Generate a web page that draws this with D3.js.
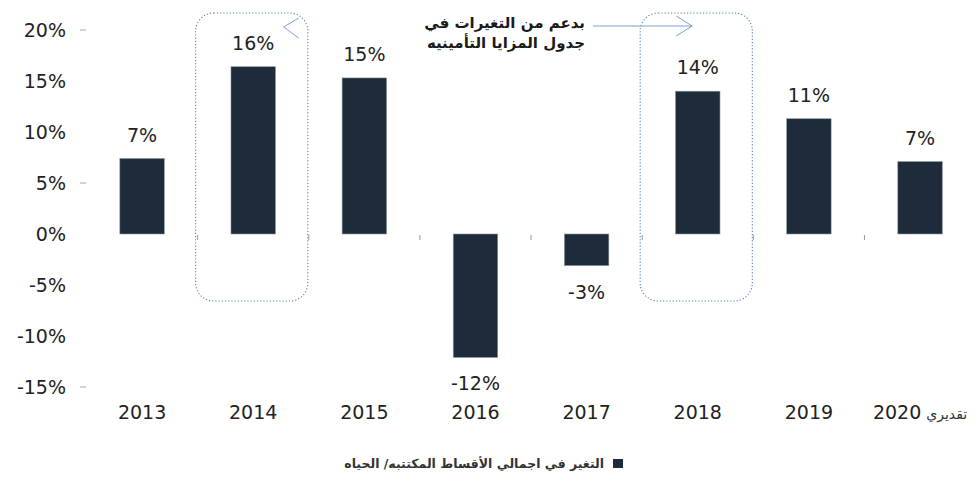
<!DOCTYPE html>
<html>
<head>
<meta charset="utf-8">
<script src="https://cdn.jsdelivr.net/npm/d3@7"></script>
<style>
  html, body { margin: 0; padding: 0; background: #fff; }
  svg { display: block; font-family: "DejaVu Sans", sans-serif; }
</style>
</head>
<body>
<div id="chart"></div>
<script>
// data
var years = ['2013', '2014', '2015', '2016', '2017', '2018', '2019', '2020'];
var growth = [7.4, 16.4, 15.3, -12.1, -3.1, 14.0, 11.3, 7.1];
var yTicks = [20, 15, 10, 5, 0, -5, -10, -15];
var markedTicks = [20, 5, -15];
var highlighted = ['2014', '2018'];
var estimateNote = 'تقديري';
var noteLines = ['بدعم من التغيرات في', 'جدول المزايا التأمينيه'];
var legendLabel = 'التغير في اجمالي الأقساط المكتتبه/ الحياه';

var width = 979, height = 478;
var barColor = '#1d2b3b';

var svg = d3.select('#chart').append('svg')
    .attr('width', width)
    .attr('height', height);

var x = d3.scaleBand()
    .domain(years)
    .range([86.5, 975.6])
    .paddingInner(0.6)
    .paddingOuter(0.3);

var y = d3.scaleLinear()
    .domain([-15, 20])
    .range([387, 30]);

var step = x.step();
var gap = step * x.paddingInner();

// y axis labels
var yAxis = svg.append('g').attr('class', 'y-axis');
yAxis.selectAll('text')
    .data(yTicks)
    .enter().append('text')
    .attr('x', 66)
    .attr('y', function (d) { return y(d); })
    .attr('dy', '0.36em')
    .attr('text-anchor', 'end')
    .attr('font-size', '19px')
    .attr('fill', '#222')
    .text(function (d) { return d + '%'; });
yAxis.selectAll('line')
    .data(markedTicks)
    .enter().append('line')
    .attr('x1', 80).attr('x2', 86)
    .attr('y1', function (d) { return y(d); })
    .attr('y2', function (d) { return y(d); })
    .attr('stroke', '#aaa')
    .attr('stroke-width', 1);

// category boundary ticks on the zero line
svg.append('g').selectAll('line')
    .data(years.slice(1))
    .enter().append('line')
    .attr('x1', function (d) { return x(d) - gap / 2; })
    .attr('x2', function (d) { return x(d) - gap / 2; })
    .attr('y1', y(0) + 1)
    .attr('y2', y(0) + 6)
    .attr('stroke', '#999')
    .attr('stroke-width', 1);

// dotted highlight boxes
svg.append('g').selectAll('rect')
    .data(highlighted)
    .enter().append('rect')
    .attr('x', function (d) { return x(d) - gap / 2 - 2; })
    .attr('y', 13)
    .attr('width', step + 1)
    .attr('height', 288)
    .attr('rx', 18)
    .attr('fill', 'none')
    .attr('stroke', '#5b7fb8')
    .attr('stroke-width', 1.1)
    .attr('stroke-dasharray', '1.2,2');

// bars
svg.append('g').selectAll('rect')
    .data(years)
    .enter().append('rect')
    .attr('x', function (d) { return x(d); })
    .attr('width', x.bandwidth())
    .attr('y', function (d, i) { return y(Math.max(0, growth[i])); })
    .attr('height', function (d, i) { return Math.abs(y(growth[i]) - y(0)); })
    .attr('fill', barColor)
    .attr('stroke', '#8a939c')
    .attr('stroke-width', 0.6);

// value labels
svg.append('g').selectAll('text')
    .data(years)
    .enter().append('text')
    .attr('x', function (d) { return x(d) + x.bandwidth() / 2; })
    .attr('y', function (d, i) {
        return growth[i] >= 0 ? y(growth[i]) - 17 : y(growth[i]) + 33;
    })
    .attr('text-anchor', 'middle')
    .attr('font-size', '19px')
    .attr('fill', '#222')
    .text(function (d, i) { return Math.round(growth[i]) + '%'; });

// x axis labels
var xLabels = svg.append('g').selectAll('text')
    .data(years)
    .enter().append('text')
    .attr('x', function (d) { return x(d) + x.bandwidth() / 2; })
    .attr('y', 419)
    .attr('text-anchor', 'middle')
    .attr('direction', 'ltr')
    .attr('font-size', '19px')
    .attr('fill', '#222');
xLabels.append('tspan').text(function (d) { return d; });
xLabels.filter(function (d) { return d === '2020'; })
    .append('tspan')
    .attr('dx', 5)
    .attr('font-size', '14px')
    .attr('fill', '#333')
    .text(estimateNote);

// annotation
var note = svg.append('g');
note.selectAll('text')
    .data(noteLines)
    .enter().append('text')
    .attr('x', 585)
    .attr('y', function (d, i) { return 28 + i * 20; })
    .attr('text-anchor', 'start')
    .attr('direction', 'rtl')
    .attr('font-size', '15px')
    .attr('font-weight', 'bold')
    .attr('fill', '#1a1a1a')
    .text(function (d) { return d; });

var arrowColor = '#7c9fd0';
var box2 = x('2018') - gap / 2 - 2;
note.append('line')
    .attr('x1', 593).attr('x2', box2 + 52)
    .attr('y1', 26).attr('y2', 26)
    .attr('stroke', arrowColor)
    .attr('stroke-width', 1);
note.append('polyline')
    .attr('points', [[box2 + 36, 16], [box2 + 52, 26], [box2 + 36, 36]].join(' '))
    .attr('fill', 'none')
    .attr('stroke', arrowColor)
    .attr('stroke-width', 1);
var box1 = x('2014') - gap / 2 - 2;
note.append('polyline')
    .attr('points', [[box1 + 103, 18], [box1 + 88, 27], [box1 + 103, 38]].join(' '))
    .attr('fill', 'none')
    .attr('stroke', arrowColor)
    .attr('stroke-width', 1);

// legend
var legend = svg.append('g');
legend.append('rect')
    .attr('x', 613).attr('y', 459)
    .attr('width', 10).attr('height', 9)
    .attr('fill', barColor);
legend.append('text')
    .attr('x', 604)
    .attr('y', 468)
    .attr('direction', 'rtl')
    .attr('text-anchor', 'start')
    .attr('font-size', '12.5px')
    .attr('font-weight', 'bold')
    .attr('fill', '#333')
    .text(legendLabel);
</script>
</body>
</html>
